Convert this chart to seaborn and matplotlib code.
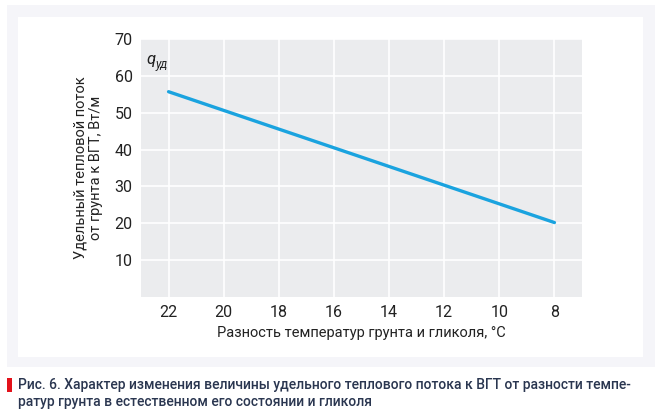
import numpy as np
import pandas as pd
import matplotlib
matplotlib.use("Agg")
import matplotlib.pyplot as plt
import seaborn as sns
from matplotlib.patches import Rectangle

# данные графика
temp_diff = [22, 8]
q_ud = [55.7, 20.2]
x_ticks = [22, 20, 18, 16, 14, 12, 10, 8]
y_ticks = [10, 20, 30, 40, 50, 60, 70]

x_label = "Разность температур грунта и гликоля, °С"
y_label = "Удельный тепловой поток\nот грунта к ВГТ, Вт/м"
caption_1 = "Рис. 6. Характер изменения величины удельного теплового потока к ВГТ от разности темпе-"
caption_2 = "ратур грунта в естественном его состоянии и гликоля"

sns.set_theme(style="darkgrid", rc={"axes.facecolor": "#ebecee", "grid.color": "white"})
plt.rcParams['font.family'] = ['Roboto', 'DejaVu Sans']

W, H = 666, 416
fig = plt.figure(figsize=(W / 100, H / 100), dpi=100)
fig.patch.set_facecolor("white")

def px_rect(x0, y0, x1, y1, color):
    fig.patches.append(Rectangle((x0 / W, 1 - y1 / H), (x1 - x0) / W, (y1 - y0) / H,
                                 transform=fig.transFigure, color=color, zorder=-2, lw=0))

# рамка вокруг графика
px_rect(7, 5, 655, 367, "#f5f5f9")
px_rect(18, 17, 643, 357, "white")

ax = fig.add_axes([141 / W, 1 - 297 / H, (582 - 141) / W, (297 - 39) / H])
df = pd.DataFrame({"dt": temp_diff, "q": q_ud})
sns.lineplot(data=df, x="dt", y="q", ax=ax, color="#1aa3df", lw=2.4)

ax.set_xlim(23, 7)
ax.set_ylim(0, 70)
ax.set_xticks(x_ticks)
ax.set_yticks(y_ticks)
ax.tick_params(axis="y", labelsize=11.5, colors="#222222", length=0, pad=6)
ax.tick_params(axis="x", labelsize=11.5, colors="#222222", length=0, pad=6)
ax.set_xlabel(x_label, fontsize=10.5, color="#222222", labelpad=4)
ax.set_ylabel(y_label, fontsize=10.5, color="#222222", labelpad=8)
for s in ax.spines.values():
    s.set_visible(False)
ax.grid(True, color="white", lw=1.2)

ax.text(0.012, 0.95, "q", transform=ax.transAxes, style="italic", fontsize=12,
        color="#222222", va="top")
ax.text(0.033, 0.925, "уд", transform=ax.transAxes, style="italic", fontsize=8.5,
        color="#222222", va="top")

# подпись
px_rect(7, 378, 12, 392, "#e3121b")
fig.text(18 / W, 1 - 385 / H, caption_1, fontsize=10, fontweight=500,
         color="#2a3650", va="center")
fig.text(18 / W, 1 - 402 / H, caption_2, fontsize=10, fontweight=500,
         color="#2a3650", va="center")

fig.savefig("out.png", dpi=100)
